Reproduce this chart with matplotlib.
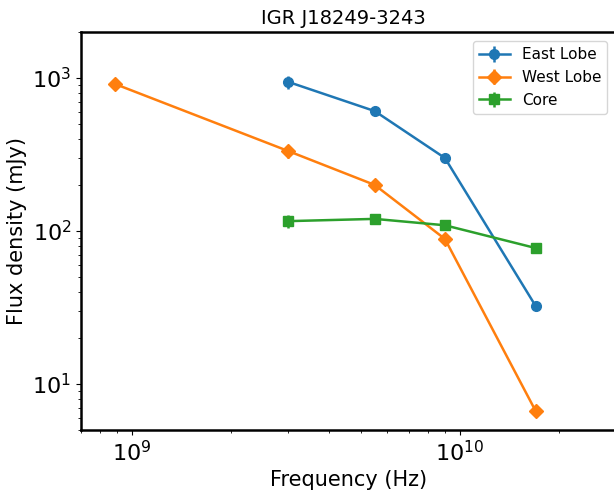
import matplotlib
matplotlib.use('Agg')
import matplotlib.pyplot as plt

# frequencies in Hz
freq_west = [0.888e9, 3.0e9, 5.5e9, 9.0e9, 17.0e9]
freq = [3.0e9, 5.5e9, 9.0e9, 17.0e9]

# flux densities in mJy
east = [943, 608, 300, 32.4]
east_err = [94, 12, 6, 1.5]
west = [915, 333, 200, 88.7, 6.67]
west_err = [40, 33, 10, 4, 0.4]
core = [116, 120, 109, 77.4]
core_err = [12, 4, 4, 2]

fig = plt.figure(figsize=(6.14, 4.94), dpi=100)
ax = fig.add_axes([81/614, 1 - 430/494, (616.5 - 81)/614, (430 - 32)/494])

ax.errorbar(freq, east, yerr=east_err, fmt='o-', color='C0', ms=7, lw=1.8, label='East Lobe')
ax.errorbar(freq_west, west, yerr=west_err, fmt='D-', color='C1', ms=7, lw=1.8, label='West Lobe')
ax.errorbar(freq, core, yerr=core_err, fmt='s-', color='C2', ms=7, lw=1.8, label='Core')

ax.set_xscale('log')
ax.set_yscale('log')
ax.set_xlim(7e8, 3e10)
ax.set_ylim(5, 2000)
ax.set_xlabel('Frequency (Hz)', fontsize=15)
ax.set_ylabel('Flux density (mJy)', fontsize=15)
ax.set_title('IGR J18249-3243', fontsize=14, x=(343 - 81)/(616.5 - 81))
ax.tick_params(axis='both', which='major', labelsize=16)
for s in ax.spines.values():
    s.set_linewidth(1.8)
ax.legend(loc='upper right', fontsize=11, borderaxespad=0.6)

fig.savefig('out.png', dpi=100)
